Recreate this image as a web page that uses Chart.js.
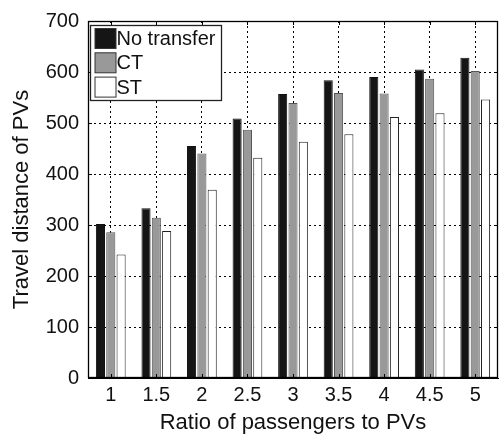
<!DOCTYPE html>
<html>
<head>
<meta charset="utf-8">
<script src="https://cdn.jsdelivr.net/npm/chart.js@4/dist/chart.umd.min.js"></script>
<style>
html,body{margin:0;padding:0;background:#fff;}
#wrap{width:501px;height:436px;}
</style>
</head>
<body>
<div id="wrap"><canvas id="c" width="501" height="436"></canvas></div>
<script>
const categories = ['1','1.5','2','2.5','3','3.5','4','4.5','5'];
const noTransfer = [302, 333, 455, 509, 557, 584, 590, 605, 628];
const ctValues   = [286, 314, 440, 487, 539, 559, 558, 587, 602];
const stValues   = [242, 288, 369, 432, 463, 478, 512, 519, 546];
const yTicks = [0, 100, 200, 300, 400, 500, 600, 700];
const seriesNames = ['No transfer', 'CT', 'ST'];

const FONT = 'Liberation Sans, Arial, Helvetica, sans-serif';

const frameLegend = {
  id: 'frameLegend',
  afterDatasetsDraw(chart) {
    const {ctx, chartArea: a} = chart;
    ctx.save();
    ctx.strokeStyle = '#000';
    ctx.lineWidth = 1;
    const ys = chart.scales.y, xs = chart.scales.x;
    yTicks.forEach(v => {
      const y = Math.round(ys.getPixelForValue(v)) + 0.5;
      ctx.beginPath(); ctx.moveTo(a.left, y); ctx.lineTo(a.left + 4, y); ctx.stroke();
      ctx.beginPath(); ctx.moveTo(a.right, y); ctx.lineTo(a.right - 4, y); ctx.stroke();
    });
    categories.forEach((c, i) => {
      const x = Math.round(xs.getPixelForValue(i)) + 0.5;
      ctx.beginPath(); ctx.moveTo(x, a.bottom); ctx.lineTo(x, a.bottom - 4); ctx.stroke();
      ctx.beginPath(); ctx.moveTo(x, a.top); ctx.lineTo(x, a.top + 4); ctx.stroke();
    });
    ctx.lineWidth = 1.3;
    ctx.strokeRect(Math.round(a.left) + 0.5, Math.round(a.top) + 0.5,
                   Math.round(a.right - a.left) - 1, Math.round(a.bottom - a.top) - 1);
    // legend box
    const lx = a.left + 2.5, ly = a.top + 4.5, lw = 131, lh = 75;
    ctx.fillStyle = '#fff';
    ctx.fillRect(lx, ly, lw, lh);
    ctx.lineWidth = 1.3;
    ctx.strokeStyle = '#222';
    ctx.strokeRect(lx, ly, lw, lh);
    ctx.font = '20px ' + FONT;
    ctx.textBaseline = 'middle';
    ctx.textAlign = 'left';
    chart.data.datasets.forEach((ds, i) => {
      const sy = ly + 3 + i * 24.3;
      ctx.fillStyle = ds.backgroundColor;
      ctx.fillRect(lx + 4.5, sy, 21, 20);
      ctx.lineWidth = 1;
      ctx.strokeStyle = '#333';
      ctx.strokeRect(lx + 4.5, sy, 21, 20);
      ctx.fillStyle = '#111';
      ctx.fillText(ds.label, lx + 26, sy + 11);
    });
    ctx.restore();
  }
};

new Chart(document.getElementById('c'), {
  type: 'bar',
  data: {
    labels: categories,
    datasets: [
      {label: seriesNames[0], data: noTransfer, backgroundColor: '#151515', borderColor: '#111', borderWidth: 1},
      {label: seriesNames[1], data: ctValues, backgroundColor: '#999999', borderColor: '#555', borderWidth: 1},
      {label: seriesNames[2], data: stValues, backgroundColor: '#ffffff', borderColor: '#222', borderWidth: 1}
    ]
  },
  options: {
    responsive: false,
    animation: false,
    devicePixelRatio: 1,
    layout: {padding: {top: 16, right: 3, left: 0, bottom: 0}},
    datasets: {bar: {categoryPercentage: 0.68, barPercentage: 0.88}},
    plugins: {legend: {display: false}, tooltip: {enabled: false}},
    scales: {
      x: {
        grid: {offset: false, color: '#000', lineWidth: 1, drawTicks: false},
        border: {display: true, color: '#000', dash: [2, 3]},
        ticks: {color: '#111', font: {family: FONT, size: 20}, padding: 5, maxRotation: 0},
        title: {display: true, text: 'Ratio of passengers to PVs', color: '#111', font: {family: FONT, size: 22}, padding: {top: 0, bottom: 0}},
        afterFit(s) { s.height = 58; }
      },
      y: {
        min: 0, max: 700,
        grid: {color: '#000', lineWidth: 1, drawTicks: false},
        border: {display: true, color: '#000', dash: [2, 3]},
        ticks: {stepSize: 100, color: '#111', font: {family: FONT, size: 20}, padding: 9,
                callback: (v) => yTicks.includes(v) ? String(v) : ''},
        title: {display: true, text: 'Travel distance of PVs', color: '#111', font: {family: FONT, size: 22}, padding: {top: 9, bottom: 0}},
        afterFit(s) { s.width = 88; }
      }
    }
  },
  plugins: [frameLegend]
});
</script>
</body>
</html>
